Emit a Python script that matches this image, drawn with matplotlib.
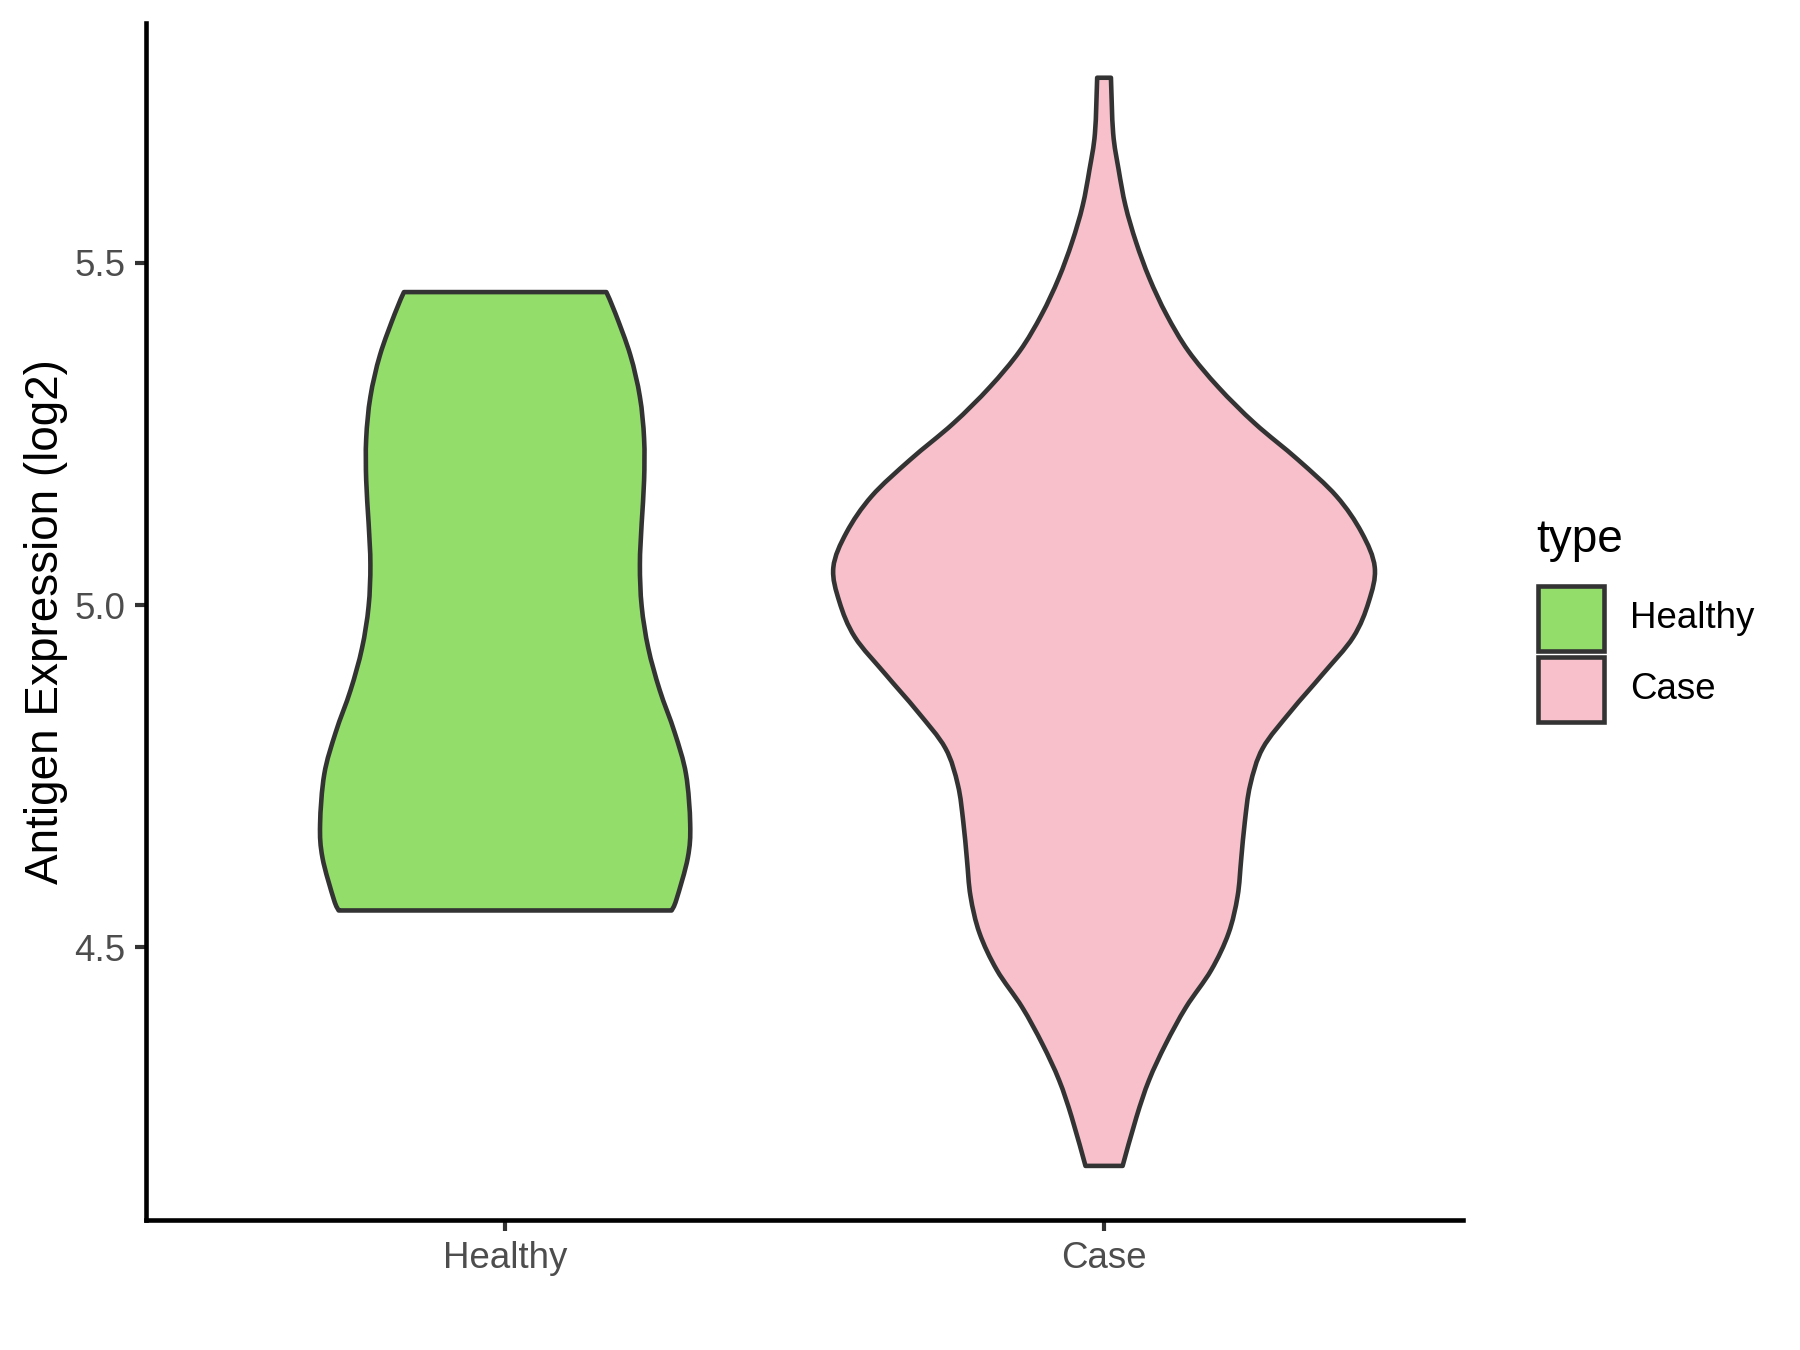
import numpy as np
import matplotlib.pyplot as plt
from matplotlib.patches import Rectangle, PathPatch
from matplotlib.path import Path

plt.rcParams['font.family'] = ['Liberation Sans', 'DejaVu Sans']

# categories and colours
groups = ['Healthy', 'Case']
colors = ['#93dd6a', '#f7c0cb']

# violin outlines: expression level -> half width
healthy_y = [5.457, 5.426, 5.365, 5.304, 5.243, 5.182, 5.120, 5.059, 4.998, 4.937,
             4.876, 4.814, 4.753, 4.680, 4.631, 4.570, 4.554]
healthy_w = [0.169, 0.184, 0.209, 0.225, 0.232, 0.232, 0.228, 0.225, 0.228, 0.239,
             0.258, 0.283, 0.302, 0.309, 0.305, 0.286, 0.278]

case_y = [5.770, 5.689, 5.636, 5.583, 5.530, 5.477, 5.424, 5.371, 5.318, 5.265,
          5.212, 5.159, 5.106, 5.055, 5.005, 4.953, 4.899, 4.845, 4.791, 4.737,
          4.683, 4.629, 4.575, 4.521, 4.467, 4.413, 4.359, 4.306, 4.252, 4.181]
case_w = [0.0115, 0.0152, 0.0243, 0.0358, 0.0534, 0.0758, 0.1043, 0.1407, 0.191, 0.252,
          0.324, 0.388, 0.430, 0.452, 0.442, 0.416, 0.365, 0.312, 0.265, 0.244,
          0.235, 0.229, 0.223, 0.208, 0.179, 0.137, 0.103, 0.075, 0.054, 0.031]

profiles = [(healthy_y, healthy_w), (case_y, case_w)]


# smooth curve through the read points (catmull-rom drawn as bezier segments)
def smooth_side(pts):
    verts, codes = [], []
    n = len(pts)
    for i in range(n - 1):
        p0 = pts[max(i - 1, 0)]
        p1 = pts[i]
        p2 = pts[i + 1]
        p3 = pts[min(i + 2, n - 1)]
        c1 = p1 + (p2 - p0) / 6
        c2 = p2 - (p3 - p1) / 6
        verts += [c1, c2, p2]
        codes += [Path.CURVE4] * 3
    return verts, codes


def violin_path(pos, yy, ww):
    yy = np.array(yy)
    ww = np.array(ww)
    left = np.column_stack([pos - ww, yy])
    right = np.column_stack([pos + ww, yy])[::-1]
    verts = [left[0]]
    codes = [Path.MOVETO]
    v, c = smooth_side(left)
    verts += v
    codes += c
    verts.append(right[0])
    codes.append(Path.LINETO)
    v, c = smooth_side(right)
    verts += v
    codes += c
    verts.append(left[0])
    codes.append(Path.CLOSEPOLY)
    return Path(np.array(verts), codes)


fig = plt.figure(figsize=(6, 4.5), dpi=300)
ax = fig.add_axes([0.081, 0.0963, 0.732, 0.8867])

edge = '#333333'
for i, (yy, ww) in enumerate(profiles):
    p = violin_path(i + 1, yy, ww)
    ax.add_patch(PathPatch(p, facecolor=colors[i], edgecolor=edge,
                           linewidth=1.1, joinstyle='round'))

ax.set_xlim(0.4, 2.6)
ax.set_ylim(4.102, 5.850)
ax.set_xticks([1, 2])
ax.set_xticklabels(groups)
ax.set_yticks([4.5, 5.0, 5.5])
ax.set_yticklabels(['4.5', '5.0', '5.5'])
ax.tick_params(axis='both', length=2.75, width=1.0, color=edge,
               labelsize=8.8, labelcolor='#4d4d4d', pad=2.2)
for s in ['top', 'right']:
    ax.spines[s].set_visible(False)
for s in ['left', 'bottom']:
    ax.spines[s].set_linewidth(1.1)
    ax.spines[s].set_color('black')
ax.set_ylabel('Antigen Expression (log2)', fontsize=11, labelpad=1.5)

# legend
W, H = 1800, 1350
fig.text(1536 / W, 1 - 540 / H, 'type', fontsize=11, va='center', ha='left')
key_top = [585.5, 656.7]
for i, g in enumerate(groups):
    y0 = key_top[i]
    fig.add_artist(Rectangle((1538 / W, 1 - (y0 + 65) / H), 66 / W, 65 / H,
                             transform=fig.transFigure, facecolor=colors[i],
                             edgecolor=edge, linewidth=1.1))
    fig.text(1630 / W, 1 - (y0 + 33) / H, g, fontsize=8.8, va='center', ha='left')

fig.savefig('out.png', dpi=300)
